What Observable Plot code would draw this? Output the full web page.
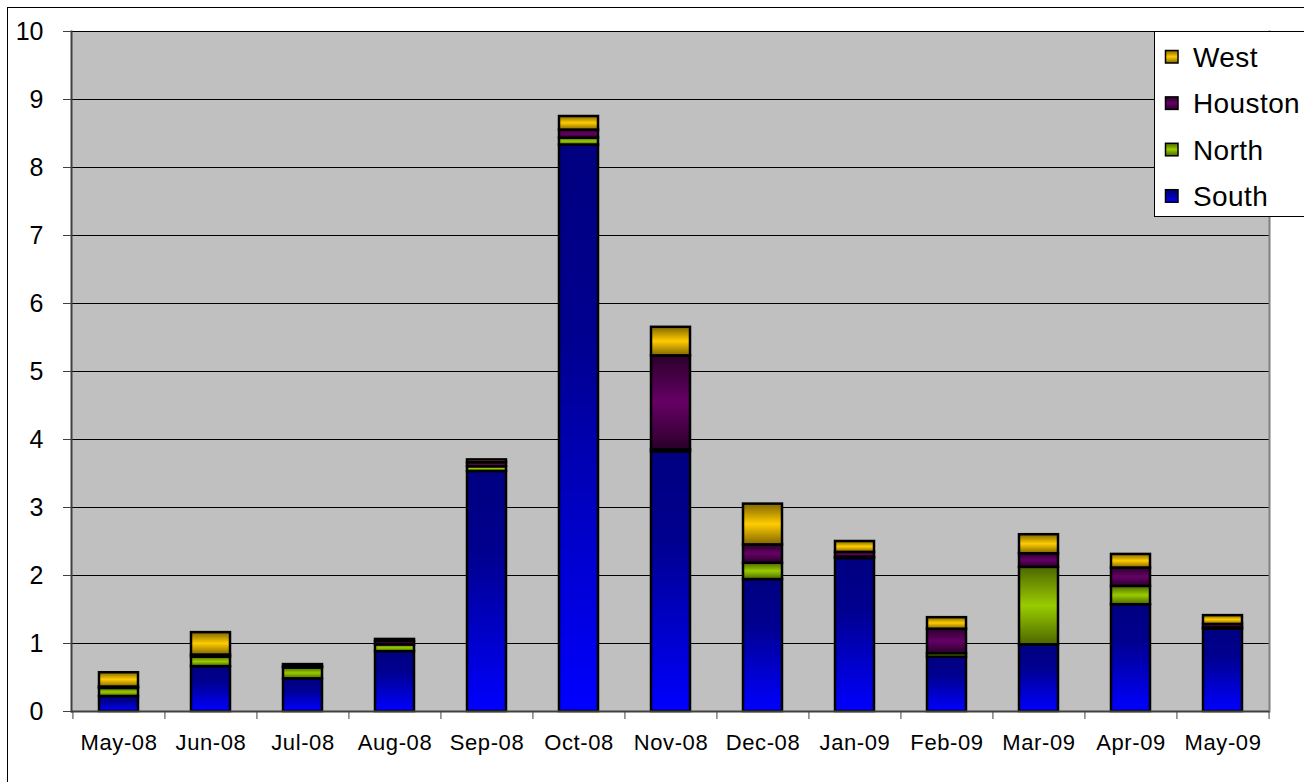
<!DOCTYPE html>
<html><head><meta charset="utf-8">
<script src="https://cdn.jsdelivr.net/npm/d3@7"></script>
<script src="https://cdn.jsdelivr.net/npm/@observablehq/plot@0.6"></script>
<style>
html,body{margin:0;padding:0;background:#fff;overflow:hidden;width:1304px;height:782px}
#frame{position:absolute;left:7px;top:7px;width:1400px;height:900px;border:1px solid #000;box-sizing:border-box}
#chart{position:absolute;left:0;top:0}
</style></head><body><div id="frame"></div><div id="chart"></div>
<script>
const months = ["May-08","Jun-08","Jul-08","Aug-08","Sep-08","Oct-08","Nov-08","Dec-08","Jan-09","Feb-09","Mar-09","Apr-09","May-09"];
const south   = [0.22,0.66,0.48,0.88,3.53,8.33,3.82,1.94,2.25,0.80,0.98,1.57,1.21];
const north   = [0.12,0.14,0.16,0.10,0.07,0.10,0.03,0.24,0.02,0.05,1.14,0.27,0.02];
const houston = [0.02,0.03,0.02,0.05,0.06,0.12,1.38,0.27,0.07,0.36,0.20,0.27,0.05];
const west    = [0.21,0.33,0.03,0.03,0.04,0.20,0.42,0.60,0.16,0.17,0.28,0.20,0.13];
const seriesNames = ["South","North","Houston","West"];
const yTicks = [0,1,2,3,4,5,6,7,8,9,10];

const seriesValues = {South: south, North: north, Houston: houston, West: west};
const data = [];
months.forEach((m, i) => seriesNames.forEach(s => data.push({month: m, series: s, value: seriesValues[s][i]})));

const gradients = {
  South:   [[0, "#000080"], [0.35, "#000090"], [1, "#0000FF"]],
  North:   [[0, "#4D6600"], [0.5, "#99CC00"], [1, "#4D6600"]],
  Houston: [[0, "#2A002A"], [0.5, "#660066"], [1, "#2A002A"]],
  West:    [[0, "#806600"], [0.5, "#FFCC00"], [1, "#806600"]]
};

const W = 1304, H = 782, ML = 71, MR = 35, MT = 31, MB = 71;
const step = (W - ML - MR) / months.length;

const chart = Plot.plot({
  width: W, height: H,
  marginLeft: ML, marginRight: MR, marginTop: MT, marginBottom: MB,
  style: {fontFamily: "'Liberation Sans', Arial, sans-serif", background: "transparent", overflow: "visible", color: "#000"},
  x: {domain: months, paddingInner: 0.58, paddingOuter: 0.29, label: null},
  y: {domain: [0, 10], label: null},
  color: {domain: seriesNames, range: seriesNames.map(s => `url(#g${s})`)},
  marks: [
    Plot.frame({fill: "#C0C0C0", stroke: null}),
    Plot.gridY(yTicks, {stroke: "#000", strokeOpacity: 1, strokeWidth: 1}),
    Plot.frame({anchor: "right", stroke: "#808080", strokeWidth: 2}),
    Plot.barY(data, {x: "month", y: "value", fill: "series", stroke: "#000", strokeWidth: 2.5}),
    Plot.frame({anchor: "left", stroke: "#404040", strokeWidth: 2}),
    Plot.ruleY([0], {stroke: "#404040", strokeWidth: 2}),
    Plot.axisY(yTicks, {tickSize: 8, tickPadding: 20, fontSize: 25, stroke: "#404040", tickFormat: d3.format("d"), label: null}),
    Plot.axisX({tickSize: 0, tickPadding: 23, fontSize: 22, label: null, className: "xlab"}),
    Plot.axisX(months, {text: null, tickSize: 8, dx: -step / 2, stroke: "#404040", label: null}),
    Plot.axisX([months[months.length - 1]], {text: null, tickSize: 8, dx: step / 2, stroke: "#404040", label: null})
  ]
});

const svg = d3.select(chart);
svg.selectAll(".xlab text").attr("letter-spacing", "0.6px");
const defs = svg.insert("defs", ":first-child");
for (const s of seriesNames) {
  const g = defs.append("linearGradient").attr("id", `g${s}`).attr("x1", 0).attr("y1", 0).attr("x2", 0).attr("y2", 1);
  for (const [o, c] of gradients[s]) g.append("stop").attr("offset", o).attr("stop-color", c);
}

// legend
const lg = svg.append("g").attr("font-family", "'Liberation Sans', Arial, sans-serif").attr("text-anchor", "start");
lg.append("rect").attr("x", 1154.5).attr("y", 31.5).attr("width", 200).attr("height", 185).attr("fill", "#fff").attr("stroke", "#000");
const legendOrder = seriesNames.slice().reverse();
legendOrder.forEach((s, i) => {
  const cy = 57 + i * 46.4;
  lg.append("rect").attr("x", 1165.5).attr("y", cy - 6.5).attr("width", 12.5).attr("height", 12.5)
    .attr("fill", `url(#g${s})`).attr("stroke", "#000").attr("stroke-width", 1.5);
  lg.append("text").attr("x", 1193).attr("y", cy).attr("dy", "0.36em").attr("font-size", 28)
    .attr("letter-spacing", "0.4px").attr("fill", "#000").attr("text-anchor", "start").text(s);
});

document.getElementById("chart").appendChild(chart);
</script>
</body></html>
